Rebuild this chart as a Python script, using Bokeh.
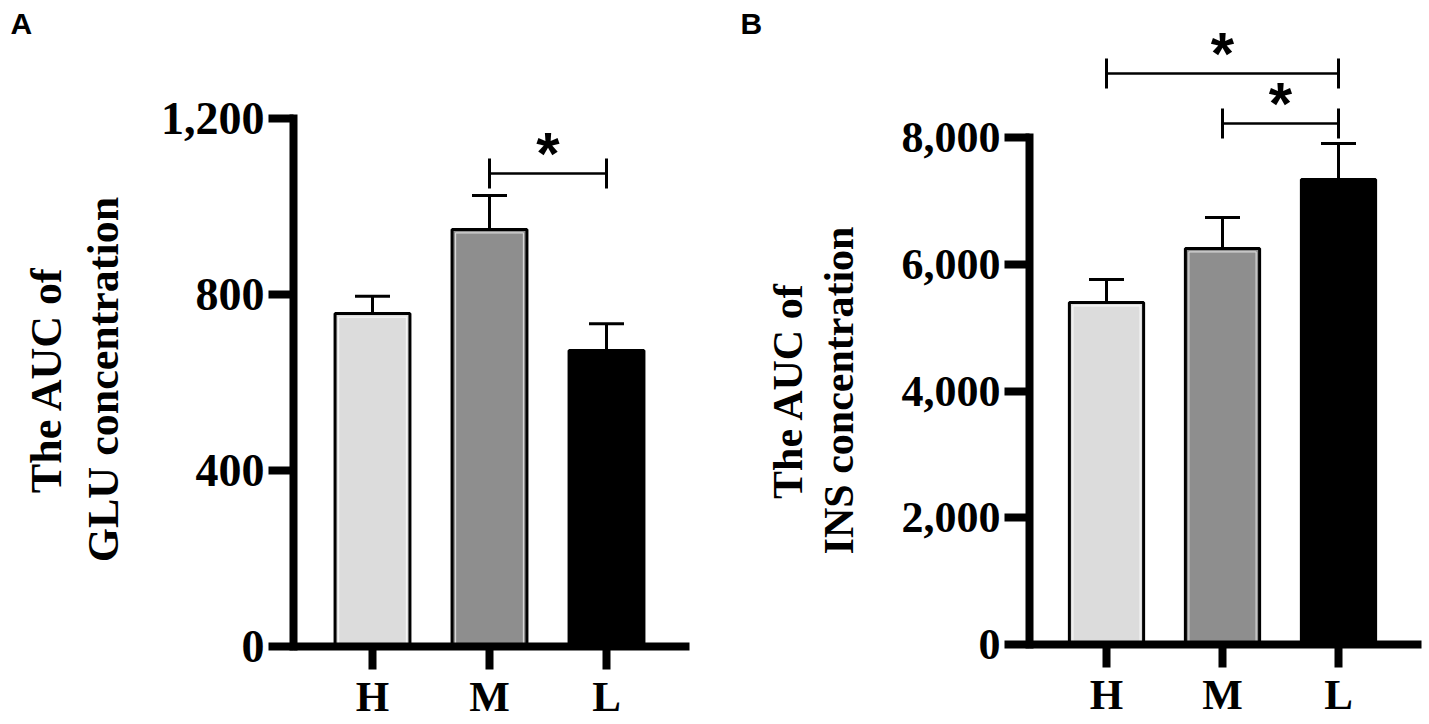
import math
from bokeh.plotting import figure
from bokeh.layouts import row
from bokeh.models import (ColumnDataSource, Range1d, FixedTicker, NumeralTickFormatter,
                          Whisker, TeeHead)
from bokeh.core.properties import value
from bokeh.embed import file_html
from bokeh.resources import INLINE

# ---------------- data ----------------
categories = ["H", "M", "L"]
bar_colors = ["#dcdcdc", "#8e8e8e", "#000000"]
inner_edge = ["#f6f6f6", "#d8d8d8", None]

glu_mean = [756, 947, 672]
glu_err = [39, 77, 61]
glu_ticks = [0, 400, 800, 1200]
glu_sig_from = ["M"]
glu_sig_to = ["L"]
glu_sig_level = [1074]
glu_title = ["The AUC of", "GLU concentration"]

ins_mean = [5397, 6249, 7337]
ins_err = [362, 489, 568]
ins_ticks = [0, 2000, 4000, 6000, 8000]
ins_sig_from = ["H", "M"]
ins_sig_to = ["L", "L"]
ins_sig_level = [9010, 8221]
ins_title = ["The AUC of", "INS concentration"]

SERIF = "Liberation Serif"
SANS = "Liberation Sans"
FIG_H = 724
BAR_W = 0.64


def make_panel(width, px_first, px_step, px_zero, px_top, px_yaxis, px_xend,
               means, errs, ticks, sig_from, sig_to, sig_level,
               tick_font, title, title_px, title_py, title_font, letter, letter_px):
    # pixel layout -> data ranges (frame covers the whole canvas)
    x_of = lambda px: 1 + (px - px_first) / px_step
    ppu = (px_zero - px_top) / ticks[-1]
    y_of = lambda py: (px_zero - py) / ppu

    p = figure(width=width, height=FIG_H, output_backend="svg", toolbar_location=None,
               x_range=Range1d(x_of(0), x_of(width)),
               y_range=Range1d(y_of(FIG_H), y_of(0)), min_border=0)
    p.xgrid.visible = False
    p.ygrid.visible = False
    p.outline_line_color = None

    xs = [i + 1 for i in range(len(categories))]
    src = ColumnDataSource(dict(x=xs, top=means,
                                upper=[m + e for m, e in zip(means, errs)],
                                color=bar_colors))
    p.add_layout(Whisker(source=src, base="x", lower="top", upper="upper",
                         line_width=3, line_color="black",
                         upper_head=TeeHead(size=35, line_width=3, line_color="black"),
                         lower_head=None))
    p.vbar(x="x", top="top", bottom=0, width=BAR_W, fill_color="color",
           line_color="black", line_width=3, source=src)
    # thin light inner edge of the shaded bars
    inset = 3.5
    keep = [i for i, c in enumerate(inner_edge) if c is not None]
    isrc = ColumnDataSource(dict(x=[xs[i] for i in keep],
                                 top=[means[i] - inset / ppu for i in keep],
                                 c=[inner_edge[i] for i in keep]))
    p.vbar(x="x", top="top", bottom=0, width=BAR_W - 2 * inset / px_step,
           fill_color=None, line_color="c", line_width=1.2, source=isrc)

    idx = {c: i + 1 for i, c in enumerate(categories)}
    x0 = [idx[a] for a in sig_from]
    x1 = [idx[b] for b in sig_to]
    ssrc = ColumnDataSource(dict(y=sig_level, x0=x0, x1=x1,
                                 xm=[(a + b) / 2 for a, b in zip(x0, x1)],
                                 star=["*"] * len(sig_level)))
    p.add_layout(Whisker(source=ssrc, dimension="width", base="y", lower="x0", upper="x1",
                         line_width=2.5, line_color="black",
                         upper_head=TeeHead(size=30, line_width=3, line_color="black"),
                         lower_head=TeeHead(size=30, line_width=3, line_color="black")))
    p.text(x="xm", y="y", text="star", source=ssrc, text_font=value(SANS),
           text_font_style="bold", text_font_size="60px", text_align="center",
           text_baseline="alphabetic", text_color="black", y_offset=-20)

    yax = p.yaxis[0]
    yax.fixed_location = x_of(px_yaxis)
    yax.ticker = FixedTicker(ticks=ticks)
    yax.formatter = NumeralTickFormatter(format="0,0")
    yax.bounds = (ticks[0], ticks[-1])
    yax.axis_line_width = 8
    yax.axis_line_cap = "square"
    yax.major_tick_line_width = 8
    yax.major_tick_out = 25
    yax.major_tick_in = 0
    yax.minor_tick_line_color = None
    yax.major_label_standoff = 4
    yax.major_label_text_font = SERIF
    yax.major_label_text_font_style = "bold"
    yax.major_label_text_font_size = tick_font
    yax.major_label_text_color = "black"

    xax = p.xaxis[0]
    xax.fixed_location = 0
    xax.bounds = (x_of(px_yaxis), x_of(px_xend))
    xax.ticker = FixedTicker(ticks=xs)
    xax.major_label_overrides = {x: c for x, c in zip(xs, categories)}
    xax.axis_line_width = 8
    xax.major_tick_line_width = 8
    xax.major_tick_out = 23
    xax.major_tick_in = 0
    xax.minor_tick_line_color = None
    xax.major_label_standoff = 3
    xax.major_label_text_font = SERIF
    xax.major_label_text_font_style = "bold"
    xax.major_label_text_font_size = "43px"
    xax.major_label_text_color = "black"

    tsrc = ColumnDataSource(dict(x=[x_of(v) for v in title_px],
                                 y=[y_of(title_py)] * len(title), t=title))
    p.text(x="x", y="y", text="t", source=tsrc, angle=math.pi / 2,
           text_align="center", text_baseline="middle", text_font=value(SERIF),
           text_font_style="bold", text_font_size=title_font, text_color="black")

    lsrc = ColumnDataSource(dict(x=[x_of(letter_px[0])], y=[y_of(letter_px[1])], t=[letter]))
    p.text(x="x", y="y", text="t", source=lsrc, text_align="left",
           text_baseline="middle", text_font=value(SANS), text_font_style="bold",
           text_font_size="30px", text_color="black")
    return p


pA = make_panel(716, 372, 117, 646, 117.5, 293, 689,
                glu_mean, glu_err, glu_ticks,
                glu_sig_from, glu_sig_to, glu_sig_level, "46px",
                glu_title, [46, 103], 379, "44px", "A", (10, 22.5))
pB = make_panel(713, 390, 116, 644, 137, 313, 705,
                ins_mean, ins_err, ins_ticks,
                ins_sig_from, ins_sig_to, ins_sig_level, "44px",
                ins_title, [71, 122], 390, "42px", "B", (24, 22.5))

layout = row(pA, pB)
open("out.html", "w").write(file_html(layout, INLINE))
